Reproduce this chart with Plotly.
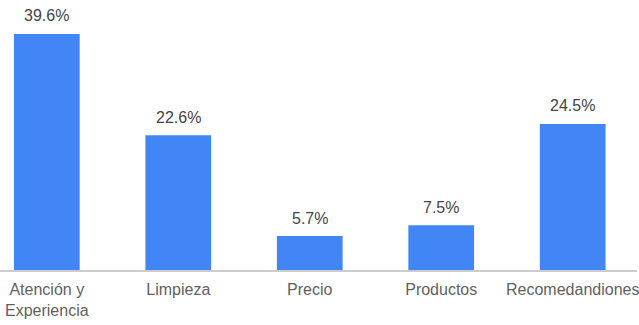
import plotly.graph_objects as go

categories = ["Atención y<br>Experiencia", "Limpieza", "Precio", "Productos", "Recomedandiones"]
values = [39.6, 22.6, 5.7, 7.5, 24.5]
labels = ["39.6%", "22.6%", "5.7%", "7.5%", "24.5%"]

fig = go.Figure()
fig.add_trace(go.Bar(
    x=categories, y=values, marker_color="#4285F4", width=0.5,
    marker_line_width=0, hoverinfo="skip",
))
for c, v, t in zip(categories, values, labels):
    fig.add_annotation(x=c, y=v, text=t, showarrow=False, yanchor="middle", yshift=18,
                       font=dict(family="Liberation Sans, Arial", size=16, color="#444444"))

fig.update_layout(
    width=639, height=325,
    margin=dict(l=0, r=0, t=0, b=55),
    paper_bgcolor="white", plot_bgcolor="white",
    showlegend=False,
    font=dict(family="Liberation Sans, Arial", size=16, color="#5f5f5f"),
    xaxis=dict(type="category", range=[-0.356, 4.489], showgrid=False, zeroline=False,
               showline=True, linecolor="#cccccc", linewidth=2, ticks="",
               ticklabelstandoff=4,
               tickfont=dict(size=16, color="#5f5f5f")),
    yaxis=dict(range=[0, 45.3], visible=False),
)
fig.write_html("out.html")
